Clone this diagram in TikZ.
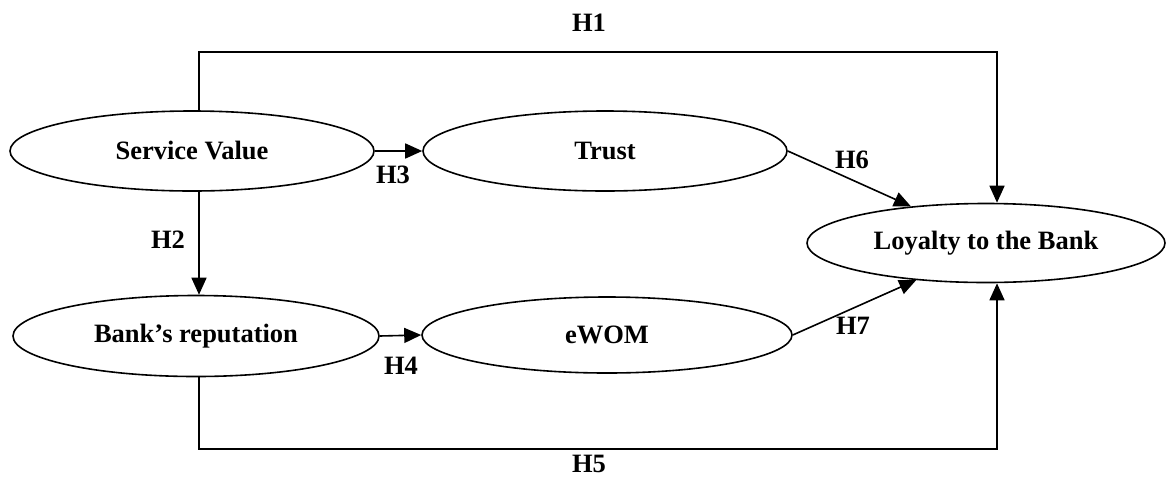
\documentclass[tikz,border=0pt]{standalone}
\usepackage{fontspec}
\setmainfont{Liberation Serif}
\usetikzlibrary{shapes.geometric,arrows.meta}
\tikzset{
  elli/.style={draw, ellipse, line width=1.6pt, inner sep=0pt, font=\fontsize{26.5}{30}\selectfont\bfseries},
  conn/.style={line width=1.6pt, -{Triangle[length=17pt,width=15pt]}},
  lbl/.style={font=\fontsize{26.5}{30}\selectfont\bfseries, inner sep=0pt}
}
\begin{document}
\begin{tikzpicture}[x=1pt,y=-1pt]
\useasboundingbox (0,0) rectangle (1166,477);
\node[elli, minimum width=364pt, minimum height=80pt] (sv) at (192,151) {Service Value};
\node[elli, minimum width=364pt, minimum height=80pt] (tr) at (605,151) {Trust};
\node[elli, minimum width=358pt, minimum height=79pt] (lo) at (986,243) {Loyalty to the Bank};
\node[elli, minimum width=366pt, minimum height=81pt] (br) at (196,336) {Bank’s reputation};
\node[elli, minimum width=370pt, minimum height=76pt] (ew) at (607,335) {eWOM};
\coordinate (t1) at (199,52);
\coordinate (t2) at (997,52);
\coordinate (b1) at (199,449);
\coordinate (b2) at (997,449);
% H1
\draw[conn] (sv.north -| t1) -- (t1) -- (t2) -- (t2 |- lo.north);
% H5
\draw[conn] (br.south -| b1) -- (b1) -- (b2) -- (b2 |- lo.south);
% H2
\draw[conn] (sv.south -| t1) -- (br.north -| t1);
% H3, H4
\draw[conn] (sv.east) -- (tr.west);
\draw[conn] (br.east) -- (ew.west);
% H6, H7
\draw[conn] (tr.east) -- (lo.154);
\draw[conn] (ew.east) -- (lo.208);
\node[lbl] (h1) at (589,23) {H1};
\node[lbl] (h2) at (168,240) {H2};
\node[lbl] (h3) at (393,175) {H3};
\node[lbl] (h4) at (401,366) {H4};
\node[lbl] (h5) at (589,464) {H5};
\node[lbl] (h6) at (852,160) {H6};
\node[lbl] (h7) at (853,326) {H7};
\end{tikzpicture}
\end{document}
